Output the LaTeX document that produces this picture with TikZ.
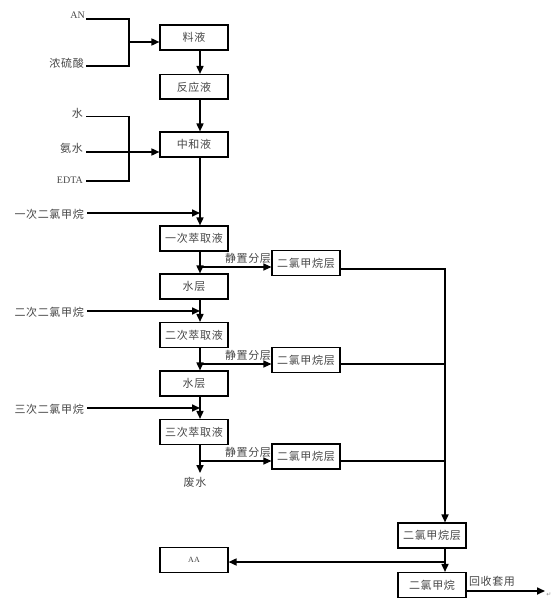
\documentclass[tikz,border=0pt]{standalone}
\usepackage{fontspec}
\setmainfont{Liberation Serif}
\newfontfamily\cjk[LetterSpace=6]{Noto Sans CJK SC}
\newfontfamily\symf{DejaVu Sans}
\usetikzlibrary{arrows.meta,calc}
\tikzset{
  box/.style={draw, line width=1.1pt, minimum width=68pt, minimum height=25pt, inner sep=0pt,
    font=\cjk\fontsize{11}{12}\selectfont, text=black!72,
    path picture={\draw[line width=2pt] (path picture bounding box.north west) -- (path picture bounding box.south west) -- (path picture bounding box.south east);}},
  lbl/.style={inner sep=0pt, font=\cjk\fontsize{11}{12}\selectfont, text=black!72},
  latin/.style={inner sep=0pt, font=\fontsize{10}{11}\selectfont, text=black!72},
  ln/.style={line width=1.6pt},
  arr/.style={ln, -{Triangle[length=8pt,width=7pt]}}
}
\begin{document}
\begin{tikzpicture}[x=1pt,y=-1pt]
\useasboundingbox (0,0) rectangle (554,599);
\coordinate (colx) at (200,0);
\coordinate (rcol) at (445,0);
% main column boxes
\node[box] (b1) at (194,37.5) {料液};
\node[box] (b2) at (194,87) {反应液};
\node[box] (b3) at (194,144.5) {中和液};
\node[box] (b4) at (194,238.5) {一次萃取液};
\node[box] (b5) at (194,286.5) {水层};
\node[box] (b6) at (194,335) {二次萃取液};
\node[box] (b7) at (194,383.5) {水层};
\node[box] (b8) at (194,432) {三次萃取液};
% side boxes
\node[box] (r1) at (306,263) {二氯甲烷层};
\node[box] (r2) at (306,360) {二氯甲烷层};
\node[box] (r3) at (306,456.5) {二氯甲烷层};
\node[box] (c1) at (432,535.5) {二氯甲烷层};
\node[box] (c2) at (432,585) {二氯甲烷};
\node[box, font=\fontsize{8}{9}\selectfont] (aa) at (194,560) {AA};
% left labels
\node[latin, anchor=east] (an) at (85,15) {AN};
\node[lbl, anchor=east] (h2so4) at (84,63) {浓硫酸};
\node[lbl, anchor=east] (water) at (83,113) {水};
\node[lbl, anchor=east] (nh3) at (83,148) {氨水};
\node[latin, anchor=east] (edta) at (83,180) {EDTA};
\node[lbl, anchor=east] (s1) at (84,214) {一次二氯甲烷};
\node[lbl, anchor=east] (s2) at (84,312) {二次二氯甲烷};
\node[lbl, anchor=east] (s3) at (84,409) {三次二氯甲烷};
\node[lbl] (j1) at (248,258) {静置分层};
\node[lbl] (j2) at (248,355) {静置分层};
\node[lbl] (j3) at (248,452) {静置分层};
\node[lbl] (fs) at (195,482) {废水};
\node[lbl] (hs) at (492,581) {回收套用};
\node[inner sep=0pt, font=\symf\fontsize{6}{7}\selectfont, text=black!45] (pm) at (549,595) {↵};
% junction coordinates
\coordinate (a1) at (86,19);
\coordinate (a2) at (86,66);
\coordinate (w1) at (86,116.5);
\coordinate (w3) at (86,181);
\coordinate (w2) at (86,152);
\coordinate (m1) at (129,42);
\coordinate (fw) at (200,473);
\coordinate (out) at (545,591);
% inputs to 料液
\draw[ln] (a1) -- (a1 -| m1) -- (a2 -| m1) -- (a2);
\draw[arr] (m1) -- (b1.west |- m1);
% inputs to 中和液
\draw[ln] (w1) -- (w1 -| m1) -- (w3 -| m1) -- (w3);
\draw[arr] (w2) -- (b3.west |- w2);
% main column
\draw[arr] (b1.south -| colx) -- (b2.north -| colx);
\draw[arr] (b2.south -| colx) -- (b3.north -| colx);
\draw[arr] (b3.south -| colx) -- (b4.north -| colx);
\draw[arr] (b4.south -| colx) -- (b5.north -| colx);
\draw[arr] (b5.south -| colx) -- (b6.north -| colx);
\draw[arr] (b6.south -| colx) -- (b7.north -| colx);
\draw[arr] (b7.south -| colx) -- (b8.north -| colx);
\draw[arr] (b8.south -| colx) -- (fw);
% solvent inputs
\draw[arr] ($(s1.east)+(3,-1)$) -- ($(s1.east -| colx)+(0,-1)$);
\draw[arr] ($(s2.east)+(3,-1)$) -- ($(s2.east -| colx)+(0,-1)$);
\draw[arr] ($(s3.east)+(3,-1)$) -- ($(s3.east -| colx)+(0,-1)$);
% separation arrows
\draw[arr, line width=1.2pt] (200,267) -- (r1.west |- 0,267);
\draw[arr, line width=1.2pt] (200,364) -- (r2.west |- 0,364);
\draw[arr, line width=1.2pt] (200,461) -- (r3.west |- 0,461);
% right collection
\draw[ln] (r1.east |- 0,269) -- (rcol |- 0,269);
\draw[ln] (r2.east |- 0,364) -- (rcol |- 0,364);
\draw[ln] (r3.east |- 0,461) -- (rcol |- 0,461);
\draw[arr] (rcol |- 0,268) -- (c1.north -| rcol);
\draw[arr] (c1.south -| rcol) -- (c2.north -| rcol);
\draw[arr] (rcol |- 0,562) -- (aa.east |- 0,562);
\draw[arr] (c2.east |- out) -- (out);
\end{tikzpicture}
\end{document}
